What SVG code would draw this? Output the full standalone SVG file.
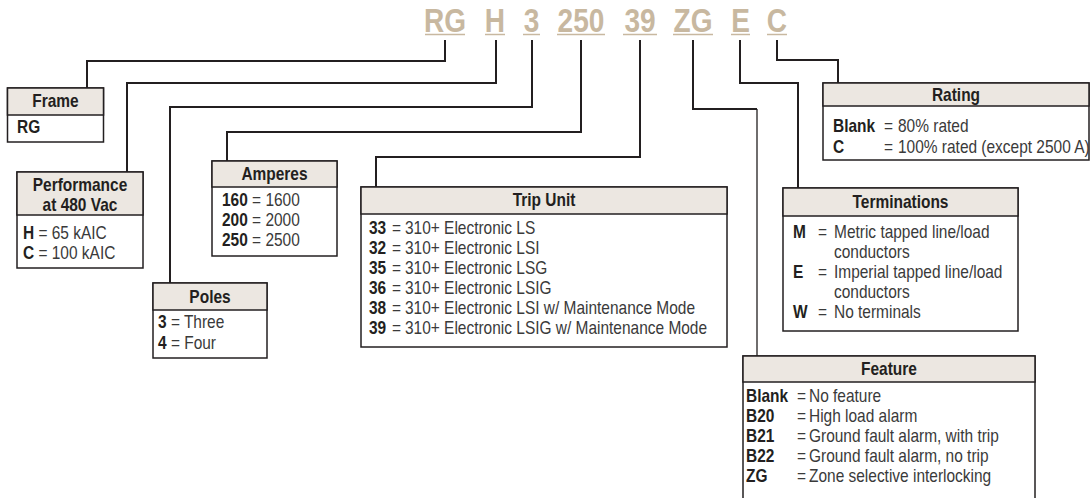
<svg xmlns="http://www.w3.org/2000/svg" width="1091" height="498" viewBox="0 0 1091 498">
<style>
text{font-family:"Liberation Sans",Arial,sans-serif;font-size:18px;fill:#3a3a3a;transform-box:fill-box;transform-origin:0 50%;transform:scaleX(.86)}
.code{font-size:33px;font-weight:bold;fill:#c8b8a0;text-anchor:middle;transform-origin:50% 50%;transform:scaleX(.85)}
.ul{stroke:#c8b8a0;stroke-width:1.5}
.hd{font-weight:bold;fill:#231f20;text-anchor:middle;transform-origin:50% 50%}
.b{font-weight:bold;fill:#231f20}
.box{fill:#fff;stroke:#231f20;stroke-width:1.5}
.hdr{fill:#ece7e1;stroke:#231f20;stroke-width:1.5}
.con{fill:none;stroke:#231f20;stroke-width:2}
</style>
<rect width="1091" height="498" fill="#fff"/>
<g id="code">
<text class="code" x="445" y="32">RG</text>
<text class="code" x="495" y="32">H</text>
<text class="code" x="531.5" y="32">3</text>
<text class="code" x="581" y="32">250</text>
<text class="code" x="640" y="32">39</text>
<text class="code" x="693" y="32">ZG</text>
<text class="code" x="740.5" y="32">E</text>
<text class="code" x="777" y="32">C</text>
<line class="ul" x1="425" y1="34.5" x2="465" y2="34.5"/>
<line class="ul" x1="485" y1="34.5" x2="505" y2="34.5"/>
<line class="ul" x1="523" y1="34.5" x2="540" y2="34.5"/>
<line class="ul" x1="557" y1="34.5" x2="605" y2="34.5"/>
<line class="ul" x1="623" y1="34.5" x2="657" y2="34.5"/>
<line class="ul" x1="673" y1="34.5" x2="713" y2="34.5"/>
<line class="ul" x1="731" y1="34.5" x2="750" y2="34.5"/>
<line class="ul" x1="767" y1="34.5" x2="787" y2="34.5"/>
</g>
<g id="connectors">
<path class="con" d="M445,40V61H87V88"/>
<path class="con" d="M496,40V83H127V172"/>
<path class="con" d="M532,40V107H170V283"/>
<path class="con" d="M581,40V132H227V161"/>
<path class="con" d="M640,40V157H376V187"/>
<path class="con" d="M693,40V109H757"/>
<path d="M757,109V356" fill="none" stroke="#231f20" stroke-width="1.3"/>
<path class="con" d="M740,40V83H798V188"/>
<path class="con" d="M777,40V60H838V83"/>
</g>
<g id="frame">
<rect class="box" x="7.5" y="88" width="96" height="54"/>
<rect class="hdr" x="7.5" y="88" width="96" height="27"/>
<text class="hd" x="55.5" y="107">Frame</text>
<text class="b" x="17" y="133">RG</text>
</g>
<g id="performance">
<rect class="box" x="17" y="172" width="126" height="96"/>
<rect class="hdr" x="17" y="172" width="126" height="43"/>
<text class="hd" x="80" y="191">Performance</text>
<text class="hd" x="80" y="211">at 480 Vac</text>
<text x="23" y="239"><tspan class="b">H</tspan> = 65 kAIC</text>
<text x="23" y="259"><tspan class="b">C</tspan> = 100 kAIC</text>
</g>
<g id="amperes">
<rect class="box" x="212" y="161" width="125" height="95"/>
<rect class="hdr" x="212" y="161" width="125" height="26"/>
<text class="hd" x="274.5" y="180">Amperes</text>
<text x="222" y="206"><tspan class="b">160</tspan> = 1600</text>
<text x="222" y="226"><tspan class="b">200</tspan> = 2000</text>
<text x="222" y="246"><tspan class="b">250</tspan> = 2500</text>
</g>
<g id="poles">
<rect class="box" x="153" y="283" width="114" height="75"/>
<rect class="hdr" x="153" y="283" width="114" height="27"/>
<text class="hd" x="210" y="303">Poles</text>
<text x="158" y="328"><tspan class="b">3</tspan> = Three</text>
<text x="158" y="349"><tspan class="b">4</tspan> = Four</text>
</g>
<g id="trip-unit">
<rect class="box" x="361" y="187" width="366" height="160"/>
<rect class="hdr" x="361" y="187" width="366" height="27"/>
<text class="hd" x="544" y="206">Trip Unit</text>
<text class="b" x="369" y="234">33</text><text x="392" y="234">=</text><text x="405" y="234">310+ Electronic LS</text>
<text class="b" x="369" y="254">32</text><text x="392" y="254">=</text><text x="405" y="254">310+ Electronic LSI</text>
<text class="b" x="369" y="274">35</text><text x="392" y="274">=</text><text x="405" y="274">310+ Electronic LSG</text>
<text class="b" x="369" y="294">36</text><text x="392" y="294">=</text><text x="405" y="294">310+ Electronic LSIG</text>
<text class="b" x="369" y="314">38</text><text x="392" y="314">=</text><text x="405" y="314">310+ Electronic LSI w/ Maintenance Mode</text>
<text class="b" x="369" y="334">39</text><text x="392" y="334">=</text><text x="405" y="334">310+ Electronic LSIG w/ Maintenance Mode</text>
</g>
<g id="rating">
<rect class="box" x="823" y="83" width="266" height="77"/>
<rect class="hdr" x="823" y="83" width="266" height="23"/>
<text class="hd" x="956" y="101">Rating</text>
<text class="b" x="833" y="132">Blank</text><text x="884" y="132">=</text><text x="898" y="132">80% rated</text>
<text class="b" x="833" y="153">C</text><text x="884" y="153">=</text><text x="898" y="153">100% rated (except 2500 A)</text>
</g>
<g id="terminations">
<rect class="box" x="783" y="188" width="235" height="143"/>
<rect class="hdr" x="783" y="188" width="235" height="28"/>
<text class="hd" x="900.5" y="208">Terminations</text>
<text class="b" x="793" y="238">M</text><text x="818" y="238">=</text><text x="834" y="238">Metric tapped line/load</text>
<text x="834" y="258">conductors</text>
<text class="b" x="793" y="278">E</text><text x="818" y="278">=</text><text x="834" y="278">Imperial tapped line/load</text>
<text x="834" y="298">conductors</text>
<text class="b" x="793" y="318">W</text><text x="818" y="318">=</text><text x="834" y="318">No terminals</text>
</g>
<g id="feature">
<rect class="box" x="743" y="356" width="292" height="150"/>
<rect class="hdr" x="743" y="356" width="292" height="26"/>
<text class="hd" x="889" y="375">Feature</text>
<text class="b" x="746" y="402">Blank</text><text x="797" y="402">=</text><text x="809" y="402">No feature</text>
<text class="b" x="746" y="422">B20</text><text x="797" y="422">=</text><text x="809" y="422">High load alarm</text>
<text class="b" x="746" y="442">B21</text><text x="797" y="442">=</text><text x="809" y="442">Ground fault alarm, with trip</text>
<text class="b" x="746" y="462">B22</text><text x="797" y="462">=</text><text x="809" y="462">Ground fault alarm, no trip</text>
<text class="b" x="746" y="482">ZG</text><text x="797" y="482">=</text><text x="809" y="482">Zone selective interlocking</text>
</g>
</svg>
